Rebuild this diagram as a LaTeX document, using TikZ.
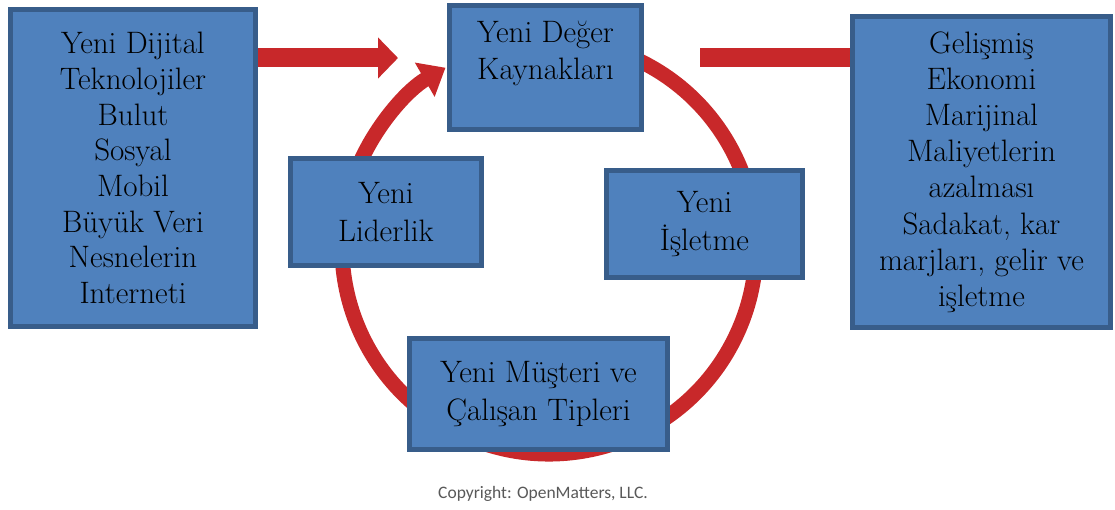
\documentclass[tikz,border=0pt]{standalone}
\usepackage{fontspec}
\newfontfamily\copyfont{Carlito}
\usetikzlibrary{arrows.meta,backgrounds}
\definecolor{boxblue}{HTML}{4F81BD}
\definecolor{boxedge}{HTML}{385D8A}
\definecolor{cred}{HTML}{C8282A}
\begin{document}
\begin{tikzpicture}[x=1pt,y=1pt,
  box/.style={draw=boxedge, fill=boxblue, line width=5pt, inner sep=0pt,
    align=center, font=\fontsize{31}{37.5}\selectfont},
  lbl/.style={align=center, inner sep=0pt, font=\fontsize{31}{37.5}\selectfont},
  redline/.style={draw=cred, line width=19pt},
  cycle/.style={draw=cred, line width=15pt, -{Triangle[width=38pt,length=24pt]}},
  copytext/.style={font=\copyfont\fontsize{17.5}{20}\selectfont, text=black!65}]
\useasboundingbox (0,0) rectangle (1115,510);

\node[box, minimum width=245pt, minimum height=317pt, font=\fontsize{31}{35.7}\selectfont] (tech) at (133,342)
  {Yeni Dijital\\Teknolojiler\\Bulut\\Sosyal\\Mobil\\Büyük Veri\\Nesnelerin\\Interneti};
\node[box, minimum width=192pt, minimum height=124pt] (value) at (545.5,442.5) {};
\node[lbl] (valuetext) at ([yshift=14pt]value.center) {Yeni Değer\\Kaynakları};
\node[box, minimum width=258pt, minimum height=311pt, font=\fontsize{31}{36.2}\selectfont] (econ) at (981.5,338)
  {Gelişmiş\\Ekonomi\\Marijinal\\Maliyetlerin\\azalması\\Sadakat, kar\\marjları, gelir ve\\işletme};
\node[box, minimum width=191pt, minimum height=107pt] (lead) at (386,298) {Yeni\\Liderlik};
\node[box, minimum width=196pt, minimum height=107pt] (oper) at (704.5,286) {Yeni\\İşletme};
\node[box, minimum width=258pt, minimum height=111pt] (cust) at (538.5,116) {Yeni Müşteri ve\\Çalışan Tipleri};

\coordinate (lt) at (398,452);
\coordinate (rs) at (700,452);
\coordinate (cc) at (549,263);

\begin{scope}[on background layer]
  \fill[white] (0,0) rectangle (1115,510);
  \draw[cycle] (cc) ++(65:207) arc[start angle=65, end angle=-240, radius=207];
  \draw[redline, -{Triangle[width=40pt,length=20pt]}] (tech.east |- lt) -- (lt);
  \draw[redline] (rs) -- (econ.west |- rs);
\end{scope}

\node[copytext] (copy) at (543,16) {Copyright: OpenMatters, LLC.};
\end{tikzpicture}
\end{document}
